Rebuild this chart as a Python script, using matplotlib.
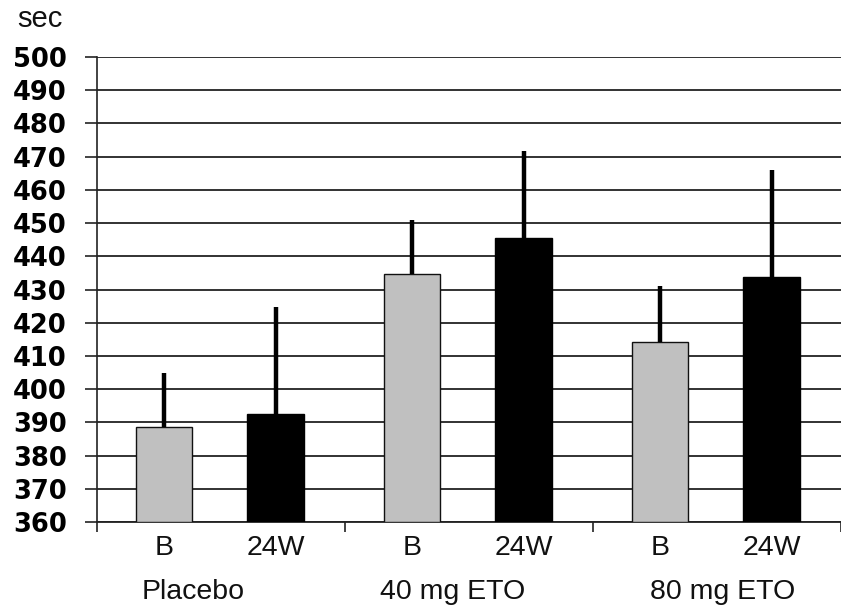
import matplotlib
matplotlib.use("Agg")
import matplotlib.pyplot as plt
import matplotlib.transforms as mtransforms
import numpy as np

# data
groups = ["Placebo", "40 mg ETO", "80 mg ETO"]
periods = ["B", "24W"]
mean_b = [388.7, 434.8, 414.2]
mean_24w = [392.4, 445.4, 433.7]
top_b = [404.8, 451.0, 431.2]  # upper end of error bar
top_24w = [424.6, 471.7, 465.9]
yticks = list(range(360, 501, 10))

fig = plt.figure(figsize=(8.41, 6.09), dpi=100)
ax = fig.add_axes([97 / 841, 1 - 522 / 609, 1 - 97 / 841, (522 - 57) / 609])

pos = np.arange(len(groups))
width = 0.228
xb = pos + 0.27
xw = pos + 0.72

ax.bar(xb, np.array(mean_b) - 360, width, bottom=360, color="#c0c0c0",
       edgecolor="#111111", linewidth=1.0, zorder=3)
ax.bar(xw, np.array(mean_24w) - 360, width, bottom=360, color="black",
       edgecolor="black", linewidth=1.0, zorder=3)

# one-sided (upper) error bars
for x, m, t in [(xb, mean_b, top_b), (xw, mean_24w, top_24w)]:
    m = np.array(m)
    up = np.array(t) - m
    ax.errorbar(x, m, yerr=[np.zeros_like(up), up], fmt="none",
                ecolor="black", elinewidth=3.2, capsize=0, zorder=4)

ax.set_ylim(360, 500)
ax.set_xlim(0, 2.964)
ax.set_yticks(yticks)
ax.set_yticklabels([str(v) for v in yticks], fontsize=18.5,
                   fontweight="bold", family="DejaVu Sans")
ax.tick_params(axis="y", length=8.6, width=1.2, color="#222222", pad=13)
ax.yaxis.grid(True, color="#222222", linewidth=1.3, zorder=0)
ax.set_axisbelow(True)

# group separators on the x axis
ax.set_xticks([0, 1, 2, 3])
ax.set_xticklabels([])
ax.tick_params(axis="x", length=7, width=1.2, color="#222222")

for s in ["top", "right"]:
    ax.spines[s].set_visible(False)
ax.spines["left"].set_color("#222222")
ax.spines["left"].set_linewidth(1.2)
ax.spines["bottom"].set_color("#222222")
ax.spines["bottom"].set_linewidth(1.3)

# category labels under the axis
trans = mtransforms.blended_transform_factory(ax.transData, ax.transAxes)
label_font = dict(fontsize=20.5, family="Liberation Sans", ha="center",
                  va="center", color="#111111")
for x in xb:
    ax.text(x, -26 / 465, periods[0], transform=trans, **label_font)
for x in xw:
    ax.text(x, -26 / 465, periods[1], transform=trans, **label_font)

group_x = [0.386, 1.434, 2.524]
for x, g in zip(group_x, groups):
    ax.text(x, -70 / 465, g, transform=trans, **label_font)

fig.text(40 / 841, 1 - 19 / 609, "sec", fontsize=21, family="Liberation Sans",
         ha="center", va="center", color="#111111")

fig.savefig("out.png", dpi=100)
